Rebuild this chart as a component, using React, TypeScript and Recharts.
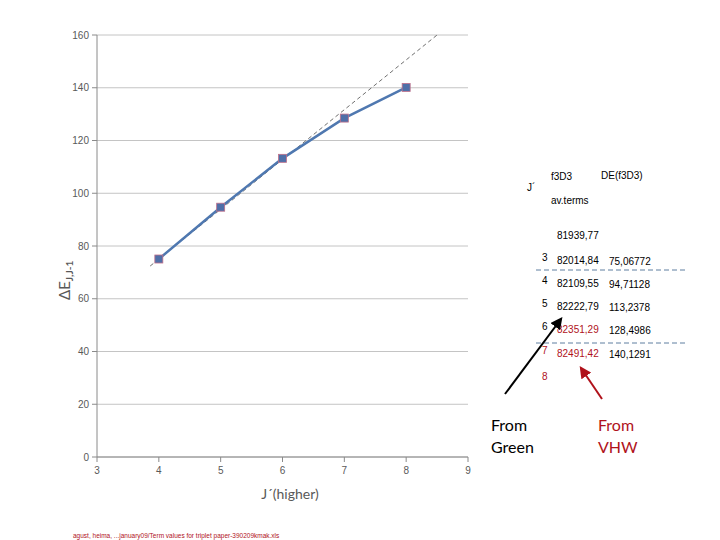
import { LineChart, Line, XAxis, YAxis, CartesianGrid } from 'recharts'

const jValues = [4, 5, 6, 7, 8]
const deltaE = [75.06772, 94.71128, 113.2378, 128.4986, 140.1291]
const trendX = [3.86, 8.5]
const trendY = [72.4, 160]
const xTicks = [3, 4, 5, 6, 7, 8, 9]
const yTicks = [0, 20, 40, 60, 80, 100, 120, 140, 160]

const tableJ = ['3', '4', '5', '6', '7', '8']
const tableTerms = ['82014,84', '82109,55', '82222,79', '82351,29', '82491,42']
const tableDE = ['75,06772', '94,71128', '113,2378', '128,4986', '140,1291']
const redRows = [3, 4]

const seriesData = jValues.map((j, i) => ({ j, e: deltaE[i] }))
const trendData = trendX.map((j, i) => ({ j, t: trendY[i] }))

const rowY = [261, 284, 307, 330, 354, 380]

function Marker(props: any) {
  const { cx, cy } = props
  if (cx == null || cy == null) return null
  return <rect x={cx - 4} y={cy - 4} width={8} height={8} fill="#4F6FA8" stroke="#c0708a" strokeWidth={0.8} />
}

export default function App() {
  const tickStyle = { fontSize: 10, fill: '#595959', fontFamily: 'Liberation Sans, Arial, sans-serif' }
  return (
    <div style={{ position: 'absolute', left: 0, top: 0, width: 720, height: 540, background: '#fff' }}>
      <LineChart width={720} height={540} margin={{ top: 35, right: 252, bottom: 0, left: 0 }}>
        <CartesianGrid vertical={false} stroke="#c4c4c4" />
        <XAxis
          dataKey="j"
          type="number"
          domain={[3, 9]}
          ticks={xTicks}
          allowDuplicatedCategory={false}
          stroke="#8a8a8a"
          tickSize={5}
          tickMargin={5}
          tick={tickStyle}
          height={83}
        />
        <YAxis
          type="number"
          domain={[0, 160]}
          ticks={yTicks}
          stroke="#8a8a8a"
          tickSize={5}
          tickMargin={3}
          tick={tickStyle}
          width={97}
        />
        <Line
          data={trendData}
          dataKey="t"
          type="linear"
          stroke="#4a4a4a"
          strokeWidth={0.8}
          strokeDasharray="4 3"
          dot={false}
          activeDot={false}
          isAnimationActive={false}
        />
        <Line
          data={seriesData}
          dataKey="e"
          type="linear"
          stroke="#4F78B0"
          strokeWidth={2.5}
          dot={<Marker />}
          activeDot={false}
          isAnimationActive={false}
        />
      </LineChart>
      <svg
        width={720}
        height={540}
        style={{ position: 'absolute', left: 0, top: 0, pointerEvents: 'none' }}
        fontFamily="Liberation Sans, Arial, sans-serif"
      >
        <defs>
          <marker id="ahBlack" viewBox="0 0 10 10" refX="8" refY="5" markerWidth="6" markerHeight="6" orient="auto">
            <path d="M0,0 L10,5 L0,10 z" fill="#000" />
          </marker>
          <marker id="ahRed" viewBox="0 0 10 10" refX="8" refY="5" markerWidth="6" markerHeight="6" orient="auto">
            <path d="M0,0 L10,5 L0,10 z" fill="#b0121b" />
          </marker>
        </defs>
        <g transform="translate(70,300) rotate(-90)" fill="#595959">
          <text x={0} y={0} fontSize={15} fontFamily="Lato, sans-serif">
            ΔE
            <tspan fontSize={10} dy={3} fontWeight="bold">J,J-1</tspan>
          </text>
        </g>
        <text x={290} y={499} textAnchor="middle" fontSize={14} fill="#595959" fontFamily="Lato, sans-serif">
          J´(higher)
        </text>

        <text x={527} y={191} fontSize={10} fill="#000">J´</text>
        <text x={551} y={180} fontSize={10} fill="#000">f3D3</text>
        <text x={601} y={179} fontSize={10} fill="#000">DE(f3D3)</text>
        <text x={551} y={204} fontSize={10} fill="#000">av.terms</text>
        <text x={557} y={239} fontSize={10} fill="#000">81939,77</text>
        {tableJ.map((j, i) => (
          <text key={'j' + j} x={542} y={rowY[i]} fontSize={10} fill={i >= 4 ? '#b0121b' : '#000'}>{j}</text>
        ))}
        {tableTerms.map((t, i) => (
          <text key={'t' + i} x={557} y={rowY[i] + 3} fontSize={10} fill={redRows.includes(i) ? '#b0121b' : '#000'}>{t}</text>
        ))}
        {tableDE.map((d, i) => (
          <text key={'d' + i} x={609} y={rowY[i] + 4} fontSize={10} fill="#000">{d}</text>
        ))}
        <line x1={536} y1={270} x2={686} y2={270} stroke="#5f7ea0" strokeDasharray="5 3" />
        <line x1={536} y1={343} x2={686} y2={343} stroke="#5f7ea0" strokeDasharray="5 3" />

        <line x1={505} y1={394} x2={561} y2={319} stroke="#000" strokeWidth={2} markerEnd="url(#ahBlack)" />
        <line x1={602} y1={399} x2={581} y2={368} stroke="#b0121b" strokeWidth={2} markerEnd="url(#ahRed)" />

        <text x={491} y={431} fontSize={16} fill="#000" fontFamily="Lato, sans-serif">From</text>
        <text x={491} y={453} fontSize={16} fill="#000" fontFamily="Lato, sans-serif">Green</text>
        <text x={598} y={431} fontSize={16} fill="#b0121b" fontFamily="Lato, sans-serif">From</text>
        <text x={598} y={453} fontSize={16} fill="#b0121b" fontFamily="Lato, sans-serif">VHW</text>

        <text x={73} y={538} fontSize={6.5} fill="#b0121b">
          agust, heima, ...january09/Term values for triplet paper-390209kmak.xls
        </text>
      </svg>
    </div>
  )
}
